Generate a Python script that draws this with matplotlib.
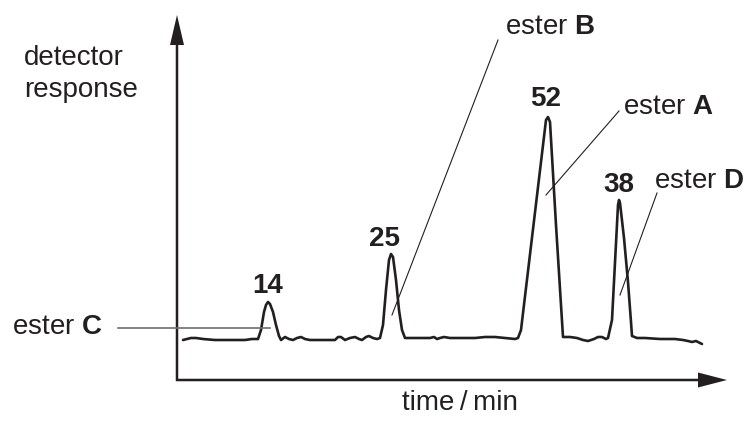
import matplotlib.pyplot as plt

plt.rcParams['font.family'] = ['Liberation Sans', 'DejaVu Sans']
plt.rcParams['mathtext.fontset'] = 'custom'
plt.rcParams['mathtext.rm'] = 'Liberation Sans'
plt.rcParams['mathtext.bf'] = 'Liberation Sans:bold'
ink = '#231f20'

# chromatogram trace (x: time position, y: detector position, pixel-like units)
trace_t = [183, 187, 191, 196, 203, 215, 230, 245, 252, 256, 258, 261, 264, 266, 268, 270, 273,
           276, 279, 281, 285, 289, 293, 297, 301, 305, 310, 320, 335, 338, 341, 345, 350, 355,
           359, 362, 366, 369, 373, 377, 380, 383, 386, 389, 391, 393, 396, 399, 402, 405, 412,
           420, 430, 434, 437, 440, 444, 450, 460, 475, 485, 495, 505, 515, 518, 521, 546, 548,
           550, 556, 563, 570, 577, 583, 588, 594, 598, 602, 606, 608, 612, 618, 619, 620, 624,
           628, 631, 632, 637, 645, 660, 675, 683, 688, 692, 696, 702]
trace_r = [340, 339, 338, 338, 339, 340, 340, 340, 339, 339, 339, 330, 312, 305, 302, 304, 312,
           325, 336, 340, 337, 339, 340, 338, 337, 339, 340, 340, 340, 337, 337, 340, 338, 337,
           339, 340, 337, 336, 338, 339, 338, 325, 290, 260, 254, 257, 280, 310, 330, 338, 338,
           338, 338, 337, 339, 338, 337, 338, 338, 338, 337, 337, 338, 339, 338, 330, 120, 117,
           122, 225, 337, 337, 338, 340, 341, 339, 337, 337, 339, 338, 320, 205, 200, 203, 238,
           282, 322, 336, 338, 338, 339, 339, 340, 341, 342, 341, 344]

# peak heights labelled on the chart
peak_labels = ['14', '25', '52', '38']
peak_label_x = [268, 384, 546, 619]
peak_label_y = [293, 246, 106, 192]

# ester names and the points their leader lines touch
ester_names = ['C', 'B', 'A', 'D']
ester_text_x = [12, 505, 623, 654]
ester_text_y = [334, 34, 114, 188]
leader_from = [(118, 328), (498, 40), (619, 111), (657, 193)]
leader_to = [(270, 328), (392, 315), (546, 195), (620, 295)]

fig = plt.figure(figsize=(7.49, 4.23), dpi=100)
ax = fig.add_axes([0, 0, 1, 1])
ax.set_xlim(0, 749)
ax.set_ylim(423, 0)
ax.axis('off')

# axes arrows
ax.arrow(177, 381, 0, -366, width=2.5, head_width=14, head_length=30,
         length_includes_head=True, color=ink, lw=0)
ax.arrow(176, 380, 551, 0, width=2.5, head_width=15, head_length=29,
         length_includes_head=True, color=ink, lw=0)

ax.plot(trace_t, trace_r, color=ink, lw=1.9, solid_joinstyle='round', solid_capstyle='round')

for name, tx, ty, p0, p1 in zip(ester_names, ester_text_x, ester_text_y, leader_from, leader_to):
    if name == 'C':
        ax.plot([p0[0], p1[0]], [p0[1], p1[1]], color='#6d6e71', lw=1.2)
    else:
        ax.plot([p0[0], p1[0]], [p0[1], p1[1]], color=ink, lw=0.8)
    ax.text(tx, ty, 'ester $\\mathbf{' + name + '}$', fontsize=20, color=ink, va='baseline', ha='left')

for lab, lx, ly in zip(peak_labels, peak_label_x, peak_label_y):
    ax.text(lx, ly, lab, fontsize=20, fontweight='bold', color=ink, ha='center', va='baseline')

ax.text(24, 65, 'detector', fontsize=20, color=ink, va='baseline')
ax.text(24, 97, 'response', fontsize=20, color=ink, va='baseline')
ax.text(402, 410, 'time\u2009/\u2009min', fontsize=20, color=ink, va='baseline')

fig.savefig('out.png', dpi=100)
